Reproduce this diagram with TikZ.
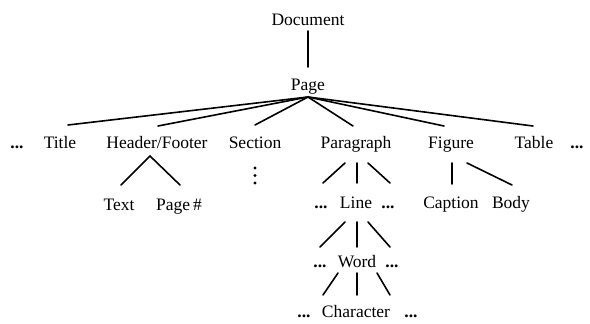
\documentclass[tikz,border=0pt]{standalone}
\usepackage{fontspec}
\setmainfont{Liberation Serif}
\begin{document}
\begin{tikzpicture}[x=1pt,y=-1pt,
  lbl/.style={inner sep=0pt, text height=12pt, text depth=4pt, font=\fontsize{17.5}{20}\selectfont},
  dots/.style={lbl, font=\fontsize{17.5}{20}\selectfont\bfseries},
  edge/.style={line width=1.6pt, line cap=round}]
\useasboundingbox (0,0) rectangle (590,324);
% nodes
\node[lbl] (doc) at (308,21) {Document};
\node[lbl] (page) at (308,86) {Page};
\node[dots] (dl) at (17,144) {...};
\node[lbl] (title) at (60,144) {Title};
\node[lbl] (hf) at (157,144) {Header/Footer};
\node[lbl] (sec) at (255,144) {Section};
\node[lbl] (par) at (356,144) {Paragraph};
\node[lbl] (fig) at (451,144) {Figure};
\node[lbl] (tab) at (534,144) {Table};
\node[dots] (dr) at (577,144) {...};
\node[lbl] (text) at (119,206) {Text};
\node[lbl] (pnum) at (179,206) {Page\,\#};
\node[dots] (l1) at (321,204) {...};
\node[lbl] (line) at (356,204) {Line};
\node[dots] (l2) at (388,204) {...};
\node[lbl] (cap) at (451,204) {Caption};
\node[lbl] (body) at (511,204) {Body};
\node[dots] (w1) at (320,263) {...};
\node[lbl] (word) at (357,263) {Word};
\node[dots] (w2) at (392,263) {...};
\node[dots] (c1) at (304,313) {...};
\node[lbl] (char) at (356,313) {Character};
\node[dots] (c2) at (411,313) {...};
% section dots
\foreach \yy in {168,175.5,183} \fill (255,\yy) circle (1.6pt);
% coordinates
\coordinate (dtop) at (308,31);
\coordinate (pbot) at (308,67);
\coordinate (pa) at (308,97);
\coordinate (e1) at (68,125);
\coordinate (e2) at (158,126);
\coordinate (e3) at (255,125);
\coordinate (e4) at (353,126);
\coordinate (e5) at (444,126);
\coordinate (e6) at (533,126);
\coordinate (ha) at (150,156);
\coordinate (h1) at (121,185);
\coordinate (h2) at (180,185);
% edges
\draw[edge] (dtop) -- (pbot);
\foreach \e in {e1,e2,e3,e4,e5,e6} \draw[edge] (pa) -- (\e);
\draw[edge] (h1) -- (ha) -- (h2);
% paragraph -> line
\draw[edge] (345,163) -- (323,183);
\draw[edge] (357,163) -- (357,183);
\draw[edge] (368,163) -- (390,183);
% line -> word
\draw[edge] (345,222) -- (320,247);
\draw[edge] (357,222) -- (357,247);
\draw[edge] (368,222) -- (390,247);
% word -> character
\draw[edge] (338,273) -- (323,295);
\draw[edge] (357,273) -- (357,295);
\draw[edge] (377,273) -- (390,295);
% figure
\draw[edge] (452,163) -- (452,184);
\draw[edge] (467,163) -- (512,185);
\end{tikzpicture}
\end{document}
